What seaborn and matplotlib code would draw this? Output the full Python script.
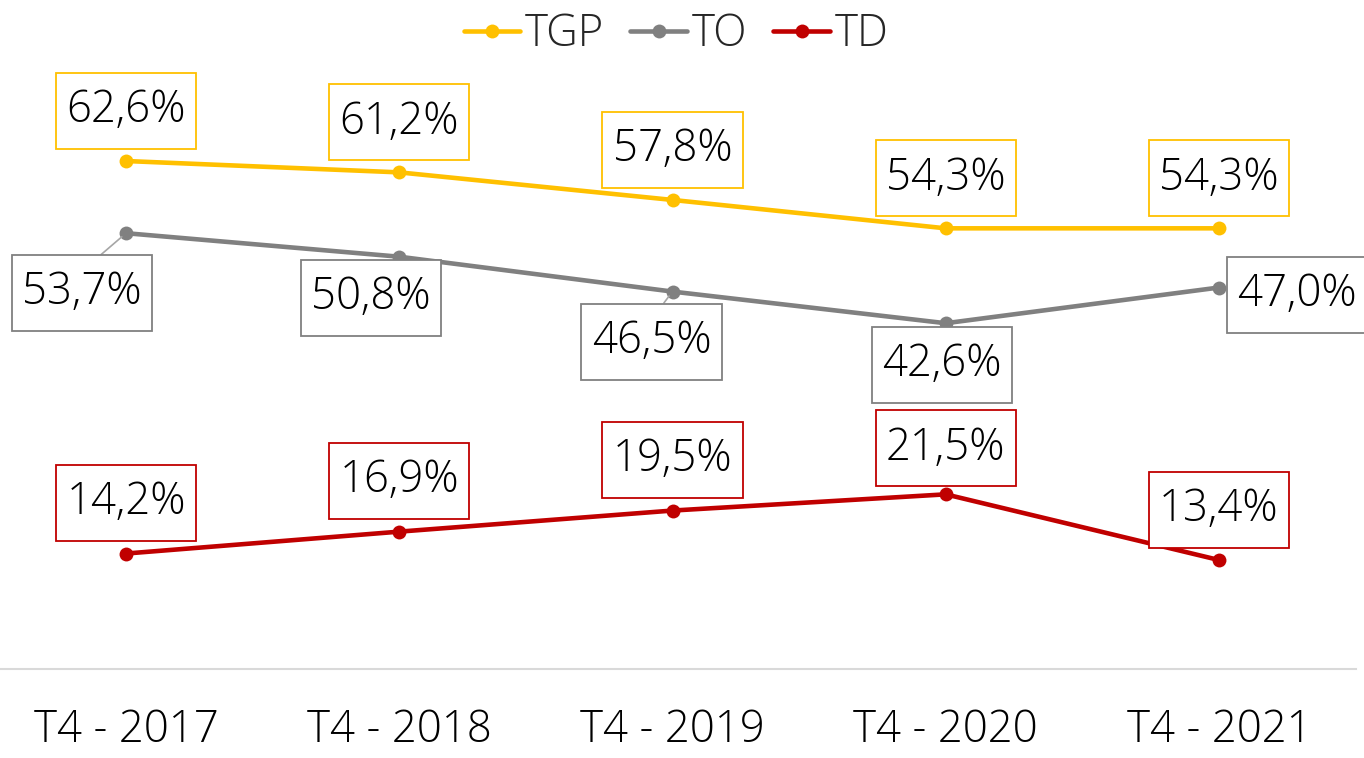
import numpy as np
import pandas as pd
import matplotlib
matplotlib.use("Agg")
import matplotlib.pyplot as plt
import seaborn as sns
from matplotlib.lines import Line2D
from matplotlib.path import Path

categories = ["T4 - 2017", "T4 - 2018", "T4 - 2019", "T4 - 2020", "T4 - 2021"]
series_names = ["TGP", "TO", "TD"]
tgp = [62.6, 61.2, 57.8, 54.3, 54.3]
to = [53.7, 50.8, 46.5, 42.6, 47.0]
td = [14.2, 16.9, 19.5, 21.5, 13.4]
colors = ["#FFC000", "#808080", "#C00000"]

# label offsets in pixels (box centre relative to point)
off_tgp = [(0, 50), (0, 50), (0, 50), (0, 50), (0, 50)]
off_to = [(-44, -60), (-28.5, -41.5), (-21, -50), (-4, -41.5), (78, -7)]
off_td = [(0, 51), (0, 51), (0, 51), (0, 46), (0, 50)]
leader_to = [True, False, True, False, False]

sns.set_theme(style="white")
plt.rcParams['font.family'] = ['Open Sans', 'DejaVu Sans']
plt.rcParams['font.weight'] = 300

FS = 31.5

values = {"TGP": tgp, "TO": to, "TD": td}
rows = []
for s in series_names:
    for c, v in zip(categories, values[s]):
        rows.append({"cat": c, "val": v, "series": s})
df = pd.DataFrame(rows)
palette = dict(zip(series_names, colors))

W, H = 1364, 758
fig = plt.figure(figsize=(W / 100, H / 100), dpi=100)
ax = fig.add_axes([-10.6 / W, 1 - 668.7 / H, 1366.2 / W, 567.7 / H])

sns.lineplot(data=df, x="cat", y="val", hue="series", palette=palette,
             marker="o", markersize=10, markeredgewidth=0, linewidth=3.3,
             sort=False, ax=ax, legend=False)

ax.set_xlim(-0.5, 4.5)
ax.set_ylim(0, 70)
ax.set_xlabel("")
ax.set_ylabel("")
ax.set_yticks([])
for sp in ["top", "left", "right"]:
    ax.spines[sp].set_visible(False)
ax.spines["bottom"].set_color("#d9d9d9")
ax.spines["bottom"].set_linewidth(1.5)
ax.tick_params(axis="x", length=0, labelsize=FS, pad=28.5, colors="black")
for t in ax.get_xticklabels():
    t.set_fontweight(300)
ax.grid(False)


def rect_box(x0, y0, width, height, mutation_size):
    px = 0.235 * mutation_size
    py = 0.36 * mutation_size
    x1, y1 = x0 + width + px, y0 + height + py
    x0, y0 = x0 - px, y0 - py
    return Path([(x0, y0), (x1, y0), (x1, y1), (x0, y1), (x0, y0)],
                closed=True)


def fmt(v):
    return f"{v:.1f}%".replace(".", ",")


def add_labels(vals, offs, color, leaders=None):
    for i, (v, o) in enumerate(zip(vals, offs)):
        kw = {}
        if leaders is not None and leaders[i]:
            kw["arrowprops"] = dict(arrowstyle="-", color="#a6a6a6", lw=1.2,
                                    shrinkA=0, shrinkB=4, relpos=(0.5, 1.0))
        ax.annotate(fmt(v), xy=(i, v), xytext=o, textcoords="offset pixels",
                    ha="center", va="center", fontsize=FS, color="black",
                    fontweight=300,
                    bbox=dict(boxstyle=rect_box, fc="white",
                              ec=color, lw=1.3),
                    annotation_clip=False, zorder=5, **kw)


add_labels(tgp, off_tgp, colors[0])
add_labels(to, off_to, colors[1], leader_to)
add_labels(td, off_td, colors[2])

handles = [Line2D([], [], color=c, lw=3.3, marker="o", markersize=10,
                  markeredgewidth=0) for c in colors]
fig.legend(handles, series_names, loc="center",
           bbox_to_anchor=(676 / W, 1 - 35 / H), ncol=3, frameon=False,
           prop={"size": FS, "weight": 300}, handlelength=1.3,
           handletextpad=0.1, columnspacing=0.6, borderaxespad=0,
           borderpad=0)

fig.savefig("out.png", dpi=100)
